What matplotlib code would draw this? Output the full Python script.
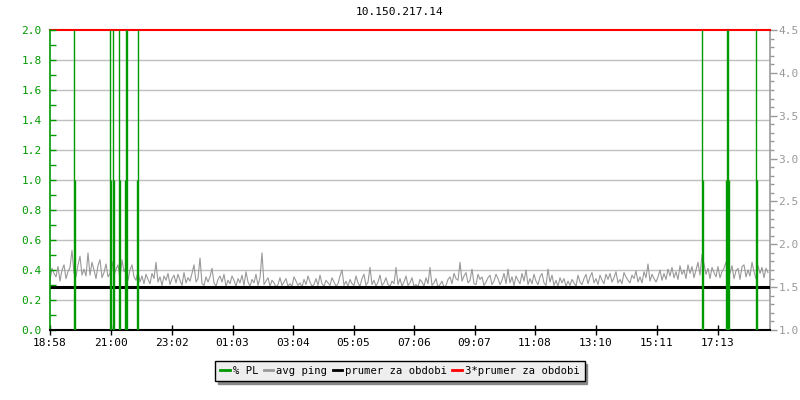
import matplotlib
matplotlib.use("Agg")
import matplotlib.pyplot as plt
from matplotlib.lines import Line2D
import numpy as np

# ---------------- data ----------------
title = "10.150.217.14"
start_label = "18:58"
span_minutes = 1440
xtick_labels = ["18:58", "21:00", "23:02", "01:03", "03:04", "05:05",
                "07:06", "09:07", "11:08", "13:10", "15:11", "17:13"]

# avg ping (ms), one sample every 4 minutes from 18:58
ping_step = 4
avg_ping = [
    1.58, 1.72, 1.66, 1.62, 1.74, 1.57, 1.70, 1.76, 1.60, 1.68,
    1.73, 1.93, 1.66, 1.62, 1.76, 1.86, 1.64, 1.71, 1.63, 1.90,
    1.64, 1.79, 1.70, 1.60, 1.75, 1.82, 1.61, 1.67, 1.77, 1.62,
    1.66, 1.80, 1.64, 1.71, 1.76, 1.60, 1.82, 1.68, 1.73, 1.58,
    1.70, 1.76, 1.62, 1.58, 1.68, 1.56, 1.63, 1.54, 1.65, 1.59,
    1.54, 1.66, 1.60, 1.79, 1.56, 1.62, 1.52, 1.63, 1.58, 1.66,
    1.53, 1.60, 1.64, 1.55, 1.65, 1.58, 1.52, 1.67, 1.55, 1.61,
    1.57, 1.66, 1.76, 1.56, 1.60, 1.84, 1.54, 1.52, 1.62, 1.56,
    1.62, 1.72, 1.55, 1.51, 1.59, 1.63, 1.56, 1.65, 1.51, 1.58,
    1.54, 1.63, 1.58, 1.51, 1.60, 1.55, 1.64, 1.52, 1.68, 1.56,
    1.51, 1.59, 1.55, 1.65, 1.52, 1.61, 1.90, 1.53, 1.57, 1.61,
    1.51, 1.58, 1.55, 1.50, 1.53, 1.61, 1.52, 1.56, 1.60, 1.51,
    1.54, 1.51, 1.62, 1.57, 1.52, 1.55, 1.50, 1.59, 1.53, 1.63,
    1.56, 1.51, 1.53, 1.60, 1.52, 1.64, 1.54, 1.51, 1.58, 1.55,
    1.52, 1.61, 1.56, 1.51, 1.54, 1.63, 1.70, 1.52, 1.57, 1.51,
    1.59, 1.54, 1.52, 1.63, 1.55, 1.51, 1.60, 1.65, 1.52, 1.56,
    1.73, 1.53, 1.58, 1.51, 1.56, 1.64, 1.52, 1.55, 1.61, 1.53,
    1.51, 1.57, 1.54, 1.73, 1.53, 1.60, 1.51, 1.56, 1.63, 1.52,
    1.55, 1.61, 1.51, 1.53, 1.50, 1.59, 1.56, 1.51, 1.61, 1.54,
    1.73, 1.52, 1.55, 1.60, 1.50, 1.53, 1.57, 1.50, 1.52, 1.59,
    1.62, 1.54, 1.66, 1.60, 1.58, 1.79, 1.57, 1.63, 1.67, 1.55,
    1.58, 1.71, 1.54, 1.53, 1.65, 1.59, 1.62, 1.52, 1.56, 1.61,
    1.64, 1.53, 1.57, 1.65, 1.60, 1.53, 1.58, 1.66, 1.54, 1.71,
    1.55, 1.62, 1.52, 1.63, 1.58, 1.54, 1.66, 1.57, 1.70, 1.53,
    1.60, 1.54, 1.65, 1.57, 1.53, 1.62, 1.66, 1.55, 1.52, 1.71,
    1.56, 1.64, 1.52, 1.58, 1.51, 1.61, 1.55, 1.60, 1.51, 1.57,
    1.52, 1.59, 1.55, 1.51, 1.64, 1.56, 1.53, 1.60, 1.65, 1.54,
    1.62, 1.67, 1.55, 1.60, 1.53, 1.64, 1.58, 1.54, 1.65, 1.59,
    1.66, 1.56, 1.61, 1.68, 1.55, 1.59, 1.54, 1.67, 1.62, 1.58,
    1.55, 1.64, 1.60, 1.69, 1.56, 1.62, 1.55, 1.68, 1.61, 1.77,
    1.57, 1.65, 1.60, 1.56, 1.62, 1.70, 1.58, 1.66, 1.59, 1.71,
    1.63, 1.73, 1.61, 1.68, 1.59, 1.75, 1.65, 1.70, 1.60, 1.76,
    1.66, 1.74, 1.61, 1.70, 1.79, 1.64, 1.88, 1.77, 1.65, 1.72,
    1.60, 1.73, 1.67, 1.62, 1.74, 1.61, 1.68, 1.72, 1.79, 1.63,
    1.66, 1.75, 1.60, 1.69, 1.72, 1.59, 1.74, 1.76, 1.62, 1.70,
    1.63, 1.79, 1.68, 1.60, 1.75, 1.66, 1.73, 1.61, 1.72, 1.67,
]

# packet loss events: minutes after start, % PL value
pl_minutes = [48, 50, 120, 122, 126, 128, 138, 140, 150, 152, 154, 174, 176,
              1304, 1306, 1352, 1354, 1356, 1358, 1412, 1414]
pl_values = [100, 1, 100, 1, 100, 1, 100, 1, 1, 100, 100, 1, 100,
             100, 1, 1, 100, 100, 1, 100, 1]

mean_ping = 1.5                 # prumer za obdobi
triple_mean = 3 * mean_ping     # 3*prumer za obdobi

left_ylim = (0.0, 2.0)
right_ylim = (1.0, 4.5)

# ---------------- styling ----------------
GREEN = "#009900"
GRAY = "#999999"
GRID = "#c0c0c0"
mono = "DejaVu Sans Mono"
FS = 8


def to_min(lbl):
    h, m = map(int, lbl.split(":"))
    h0, m0 = map(int, start_label.split(":"))
    return ((h * 60 + m) - (h0 * 60 + m0)) % 1440


fig = plt.figure(figsize=(8, 4), dpi=100)
ax = fig.add_axes([50 / 800, 70 / 400, 720 / 800, 300 / 400])
ax2 = ax.twinx()

# left axis (% PL)
ax.set_xlim(0, span_minutes)
ax.set_ylim(*left_ylim)
lt = np.arange(0, 2.01, 0.2)
ax.set_yticks(lt)
ax.set_yticks(np.arange(0.1, 2.0, 0.2), minor=True)
ax.set_yticklabels([f"{v:.1f}" for v in lt], fontsize=FS, family=mono, color=GREEN)
for y in np.arange(0.2, 1.81, 0.2):
    ax2.axhline(1.0 + y * 1.75, color=GRID, lw=1.0, zorder=0)
ax.tick_params(axis="y", which="both", direction="in", color=GREEN, length=4, width=1, pad=6)

xt = [to_min(l) for l in xtick_labels]
ax.set_xticks(xt)
ax.set_xticklabels(xtick_labels, fontsize=FS, family=mono)
ax.tick_params(axis="x", direction="inout", length=7, width=1, pad=2)

ax.spines["left"].set_color(GREEN)
ax.spines["left"].set_linewidth(1.2)
ax.spines["bottom"].set_color("black")
ax.spines["bottom"].set_linewidth(1.5)
ax.spines["top"].set_visible(False)
ax.spines["right"].set_visible(False)

# right axis (ping)
ax2.set_ylim(*right_ylim)
rt = np.arange(1.0, 4.51, 0.5)
ax2.set_yticks(rt)
ax2.set_yticks(np.arange(1.0, 4.51, 0.1), minor=True)
ax2.set_yticklabels([f"{v:.1f}" for v in rt], fontsize=FS, family=mono, color=GRAY)
ax2.tick_params(axis="y", which="major", direction="out", color=GRAY, length=5, width=1, pad=1)
ax2.tick_params(axis="y", which="minor", direction="out", color=GRAY, length=3, width=1)
ax2.spines["right"].set_color(GRAY)
ax2.spines["right"].set_linewidth(1.2)
for s in ["top", "left", "bottom"]:
    ax2.spines[s].set_visible(False)

# series
t_ping = np.arange(len(avg_ping)) * ping_step
ax2.plot(t_ping, avg_ping, color=GRAY, lw=0.8, zorder=2)
ax2.axhline(mean_ping, color="black", lw=2.2, zorder=3)
ax2.axhline(triple_mean, color="red", lw=1.5, zorder=3, clip_on=False)
ax.vlines(pl_minutes, 0, np.clip(np.array(pl_values, float), 0, 2.0),
          color=GREEN, lw=1.0, zorder=4)
ax.set_zorder(ax2.get_zorder() + 1)
ax.patch.set_visible(False)

fig.text(0.5, 1 - 12 / 400, title, ha="center", va="center", fontsize=FS, family=mono)

# legend
handles = [Line2D([], [], color=GREEN, lw=2),
           Line2D([], [], color=GRAY, lw=2),
           Line2D([], [], color="black", lw=2),
           Line2D([], [], color="red", lw=2)]
labels = ["% PL", "avg ping", "prumer za obdobi", "3*prumer za obdobi"]
leg = fig.legend(handles, labels, loc="center", bbox_to_anchor=(0.5, 1 - 371 / 400),
                 ncol=4, prop={"family": mono, "size": 7.6}, handlelength=0.9,
                 handletextpad=0.3, columnspacing=0.5, borderpad=0.45,
                 fancybox=False, edgecolor="black", facecolor="#eeeeee", framealpha=1,
                 shadow={"color": "#888888", "alpha": 1})
leg.get_frame().set_linewidth(1.0)

fig.savefig("out.png", dpi=100)
